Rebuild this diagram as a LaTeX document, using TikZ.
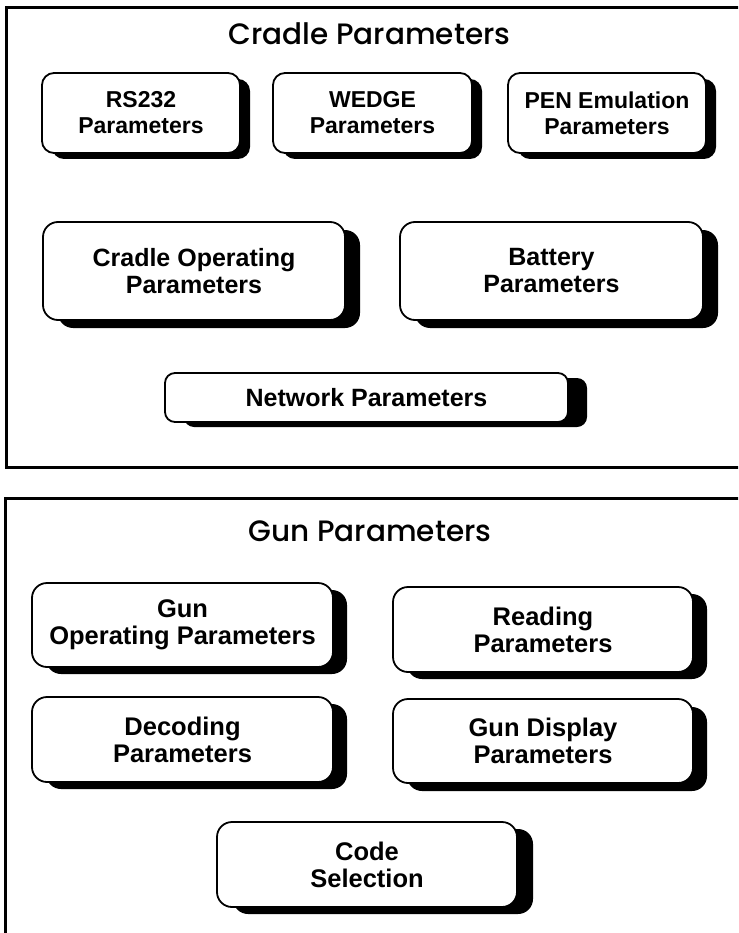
\documentclass[tikz,border=0pt]{standalone}
\usepackage{fontspec}
\setmainfont{Liberation Sans}
\newfontfamily\titlefont{Poppins}[UprightFont={* Medium}]
\usetikzlibrary{shadows}

\tikzset{
  parambox/.style={draw, line width=1.8pt, rounded corners=12pt, fill=white,
    align=center, inner sep=0pt, font=\bfseries\fontsize{23}{26}\selectfont},
  midbox/.style={parambox, rounded corners=15pt, font=\bfseries\fontsize{25}{27}\selectfont},
  gunbox/.style={parambox, rounded corners=15pt, font=\bfseries\fontsize{25.5}{27}\selectfont},
  boxshadow/.style 2 args={drop shadow={shadow xshift=#1pt, shadow yshift=-#2pt,
    fill=black, opacity=1}},
  frameline/.style={line width=3pt},
  grouptitle/.style={font=\titlefont\fontsize{29.5}{32}\selectfont, anchor=base}
}

\begin{document}
\begin{tikzpicture}[x=1pt, y=-1pt]
			%%%%% FRAME %%%%%
			\useasboundingbox (0,0) rectangle (738,933);
			\clip (0,0) rectangle (738,933);
			
			%%%%% CRADLE %%%%%
			\draw[frameline] (760,7.5) -- (6.5,7.5) -- (6.5,467) -- (760,467);
			\node[grouptitle] (cradletitle) at (369.5,45) {Cradle Parameters};
			
			\node[parambox, boxshadow={10}{6}, minimum width=198pt, minimum height=80pt]
				(rs232) at (141,113) {RS232\\Parameters};
			\node[parambox, boxshadow={10}{6}, minimum width=199pt, minimum height=80pt]
				(wedge) at (372.5,113) {WEDGE\\Parameters};
			\node[parambox, boxshadow={10}{6}, minimum width=198pt, minimum height=80pt]
				(pen) at (607,113) {PEN Emulation\\Parameters};
			
			\node[midbox, boxshadow={15}{8}, minimum width=302pt, minimum height=98pt]
				(cradleop) at (194,271) {Cradle Operating\\Parameters};
			\node[midbox, boxshadow={15}{8}, minimum width=303pt, minimum height=98pt]
				(battery) at (551.5,271) {Battery\\Parameters};
			
			\node[midbox, rounded corners=10pt, boxshadow={19}{5}, minimum width=403pt, minimum height=49pt]
				(network) at (366.5,397.5) {Network Parameters};
			
			%%%%% GUN %%%%%
			\draw[frameline] (760,498.5) -- (5,498.5) -- (5,960);
			\node[grouptitle] (guntitle) at (370,541) {Gun Parameters};
			
			\node[gunbox, boxshadow={14}{7}, minimum width=301pt, minimum height=84pt]
				(gunop) at (182.5,625) {Gun\\Operating Parameters};
			\node[gunbox, boxshadow={14}{7}, minimum width=300pt, minimum height=85pt]
				(reading) at (543,629.5) {Reading\\Parameters};
			\node[gunbox, boxshadow={14}{7}, minimum width=301pt, minimum height=85pt]
				(decoding) at (182.5,739.5) {Decoding\\Parameters};
			\node[gunbox, boxshadow={14}{8}, minimum width=300pt, minimum height=84pt]
				(gundisplay) at (543,741) {Gun Display\\Parameters};
			
			\node[gunbox, boxshadow={16}{7}, minimum width=300pt, minimum height=85pt]
				(codesel) at (367,864.5) {Code\\Selection};
			
			%%%%% END %%%%%
\end{tikzpicture}
\end{document}
